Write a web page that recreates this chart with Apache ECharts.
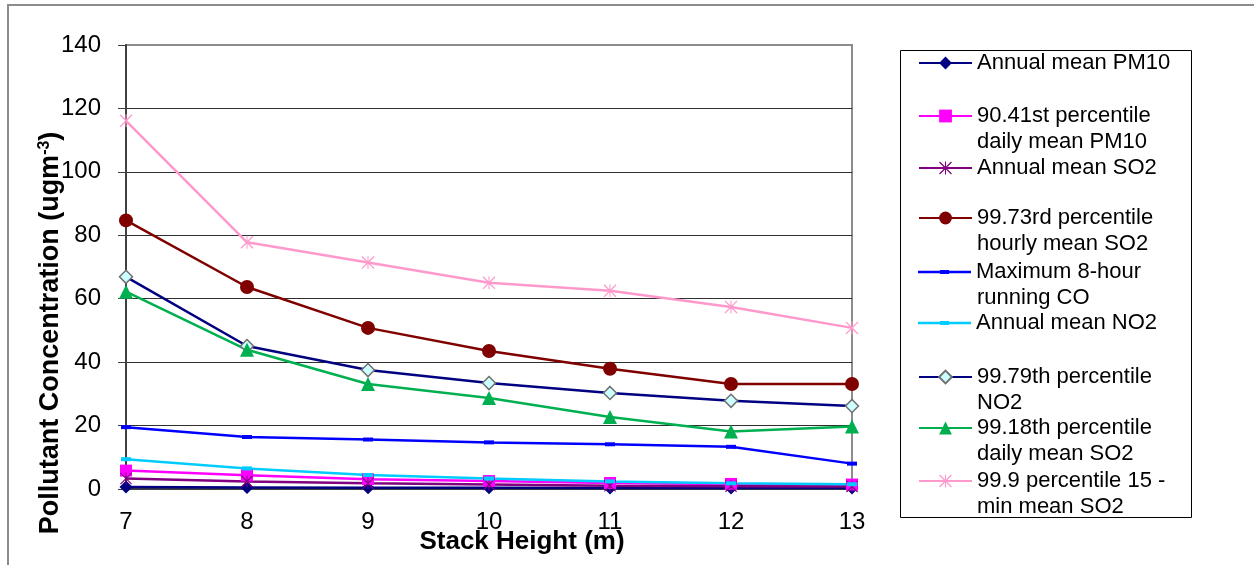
<!DOCTYPE html>
<html>
<head>
<meta charset="utf-8">
<script src="https://cdn.jsdelivr.net/npm/echarts@6/dist/echarts.min.js"></script>
<style>
  html, body { margin: 0; padding: 0; background: #fff; }
  #chart { width: 1254px; height: 565px; }
</style>
</head>
<body>
<div id="chart"></div>
<script>
// Stack heights (m)
const stackHeights = ['7', '8', '9', '10', '11', '12', '13'];

// Pollutant concentrations (ugm-3) per stack height
const pm10Annual   = [0.6, 0.5, 0.4, 0.4, 0.3, 0.3, 0.3];
const pm10Pct      = [5.8, 4.3, 3.1, 2.5, 1.9, 1.6, 1.4];
const so2Annual    = [3.3, 2.4, 1.8, 1.4, 1.0, 0.9, 0.8];
const so2Hourly    = [84.7, 63.7, 50.8, 43.5, 37.9, 33.1, 33.1];
const coMax8h      = [19.5, 16.4, 15.6, 14.7, 14.1, 13.3, 8.0];
const no2Annual    = [9.4, 6.5, 4.4, 3.3, 2.4, 1.8, 1.5];
const no2Pct       = [66.9, 45.1, 37.5, 33.4, 30.3, 27.8, 26.2];
const so2Daily     = [62.2, 43.9, 33.1, 28.7, 22.7, 18.1, 19.7];
const so215min     = [116.1, 77.8, 71.4, 65.0, 62.5, 57.4, 50.8];

const seriesNames = [
  'Annual mean PM10',
  '90.41st percentile\ndaily mean PM10',
  'Annual mean SO2',
  '99.73rd percentile\nhourly mean SO2',
  'Maximum 8-hour\nrunning CO',
  'Annual mean NO2',
  '99.79th percentile\nNO2',
  '99.18th percentile\ndaily mean SO2',
  '99.9 percentile 15 -\nmin mean SO2'
];

const FONT = '"Liberation Sans", Arial, sans-serif';

// Asterisk marker: vertical bar plus two diagonals, all wound the same way
const asterisk = 'path://M46,0L54,0L54,100L46,100Z M0,7L7,0L100,93L93,100Z M93,0L100,7L7,100L0,93Z';
// Short horizontal dash marker
const dash = 'path://M0,0L10,0L10,4L0,4Z';
// Legend key for dash-marked series: full-width line with a short dash in the middle
const dashKey = 'path://M0,0.75L53,0.75L53,3.25L0,3.25Z M22,0L31,0L31,4L22,4Z';

function line(name, data, color, symbol, size, extraItem, keepAspect) {
  return {
    name: name,
    type: 'line',
    data: data,
    symbol: symbol,
    symbolSize: size,
    symbolKeepAspect: !!keepAspect,
    showAllSymbol: true,
    lineStyle: { color: color, width: 2.5 },
    itemStyle: Object.assign({ color: color }, extraItem || {}),
    emphasis: { disabled: true },
    silent: true
  };
}

const series = [
  line(seriesNames[0], pm10Annual, '#000080', 'diamond', 13),
  line(seriesNames[1], pm10Pct, '#ff00ff', 'rect', 12),
  line(seriesNames[2], so2Annual, '#800080', asterisk, 12),
  line(seriesNames[3], so2Hourly, '#800000', 'circle', 14),
  line(seriesNames[4], coMax8h, '#0000ff', dash, 10, null, true),
  line(seriesNames[5], no2Annual, '#00ccff', dash, 10, null, true),
  line(seriesNames[6], no2Pct, '#000080', 'diamond', 13,
       { color: '#ccffff', borderColor: '#707070', borderWidth: 1.5 }),
  line(seriesNames[7], so2Daily, '#00b050', 'triangle', 14),
  line(seriesNames[8], so215min, '#ff99cc', asterisk, 13)
];

// Legend rows: centre y of each entry's first line; wrapped lines sit one row below
const legendRowY = [63, 116, 168, 218, 272, 323, 377, 428, 481];
const LINE_H = 26;
const LEGEND_TEXT_X = 977;

const legends = seriesNames.map(function (name, i) {
  const isDash = series[i].symbol === dash;
  return {
    data: isDash ? [{ name: name, icon: dashKey }] : [name],
    left: 918,
    top: legendRowY[i] - LINE_H / 2,
    orient: 'vertical',
    padding: 0,
    itemWidth: 53,
    itemHeight: isDash ? 4 : 16,
    selectedMode: false,
    formatter: function (n) { return n.split('\n')[0]; },
    textStyle: { fontFamily: FONT, fontSize: 22, color: '#000', lineHeight: LINE_H }
  };
});

const legendWrapLines = [];
seriesNames.forEach(function (name, i) {
  const parts = name.split('\n');
  if (parts.length > 1) {
    legendWrapLines.push({
      type: 'text', silent: true,
      x: LEGEND_TEXT_X, y: legendRowY[i] + LINE_H,
      style: {
        text: parts[1], font: '22px ' + FONT, fill: '#000',
        align: 'left', verticalAlign: 'middle'
      }
    });
  }
});

const chart = echarts.init(document.getElementById('chart'), null, { renderer: 'canvas' });
chart.setOption({
  animation: false,
  backgroundColor: '#fff',
  textStyle: { fontFamily: FONT },
  grid: {
    left: 126, right: 402, top: 45, bottom: 76,
    show: true, borderColor: '#8c8c8c', borderWidth: 2, backgroundColor: 'transparent'
  },
  xAxis: {
    type: 'category',
    data: stackHeights,
    boundaryGap: false,
    axisLine: { show: true, lineStyle: { color: '#404040', width: 2 } },
    axisTick: { show: false },
    axisLabel: { fontSize: 24, color: '#000', margin: 21 },
    splitLine: { show: false }
  },
  yAxis: {
    type: 'value',
    min: 0, max: 140, interval: 20,
    axisLine: { show: true, lineStyle: { color: '#404040', width: 2 } },
    axisTick: { show: true, inside: false, length: 8, lineStyle: { color: '#404040', width: 1 } },
    axisLabel: { fontSize: 24, color: '#000', margin: 25 },
    splitLine: { show: true, showMaxLine: false, lineStyle: { color: '#303030', width: 1 } }
  },
  legend: legends,
  series: series,
  graphic: [
    {
      type: 'rect', silent: true, z: -10,
      shape: { x: 8, y: 5, width: 1260, height: 570 },
      style: { fill: 'none', stroke: '#8c8c8c', lineWidth: 2 }
    },
    {
      type: 'rect', silent: true,
      shape: { x: 900.5, y: 50.5, width: 291, height: 467 },
      style: { fill: 'none', stroke: '#000', lineWidth: 1 }
    },
    {
      type: 'text', silent: true,
      x: 522, y: 542,
      style: {
        text: 'Stack Height (m)',
        font: 'bold 26px ' + FONT,
        fill: '#000', align: 'center', verticalAlign: 'middle'
      }
    },
    {
      type: 'text', silent: true,
      x: 51, y: 333, rotation: Math.PI / 2,
      style: {
        text: 'Pollutant Concentration (ugm{sup|-3})',
        font: 'bold 27px ' + FONT,
        fill: '#000', align: 'center', verticalAlign: 'middle',
        rich: {
          sup: {
            font: 'bold 16px ' + FONT,
            fill: '#000',
            verticalAlign: 'top',
            padding: [0, 0, 12, 0]
          }
        }
      }
    }
  ].concat(legendWrapLines)
});
</script>
</body>
</html>
